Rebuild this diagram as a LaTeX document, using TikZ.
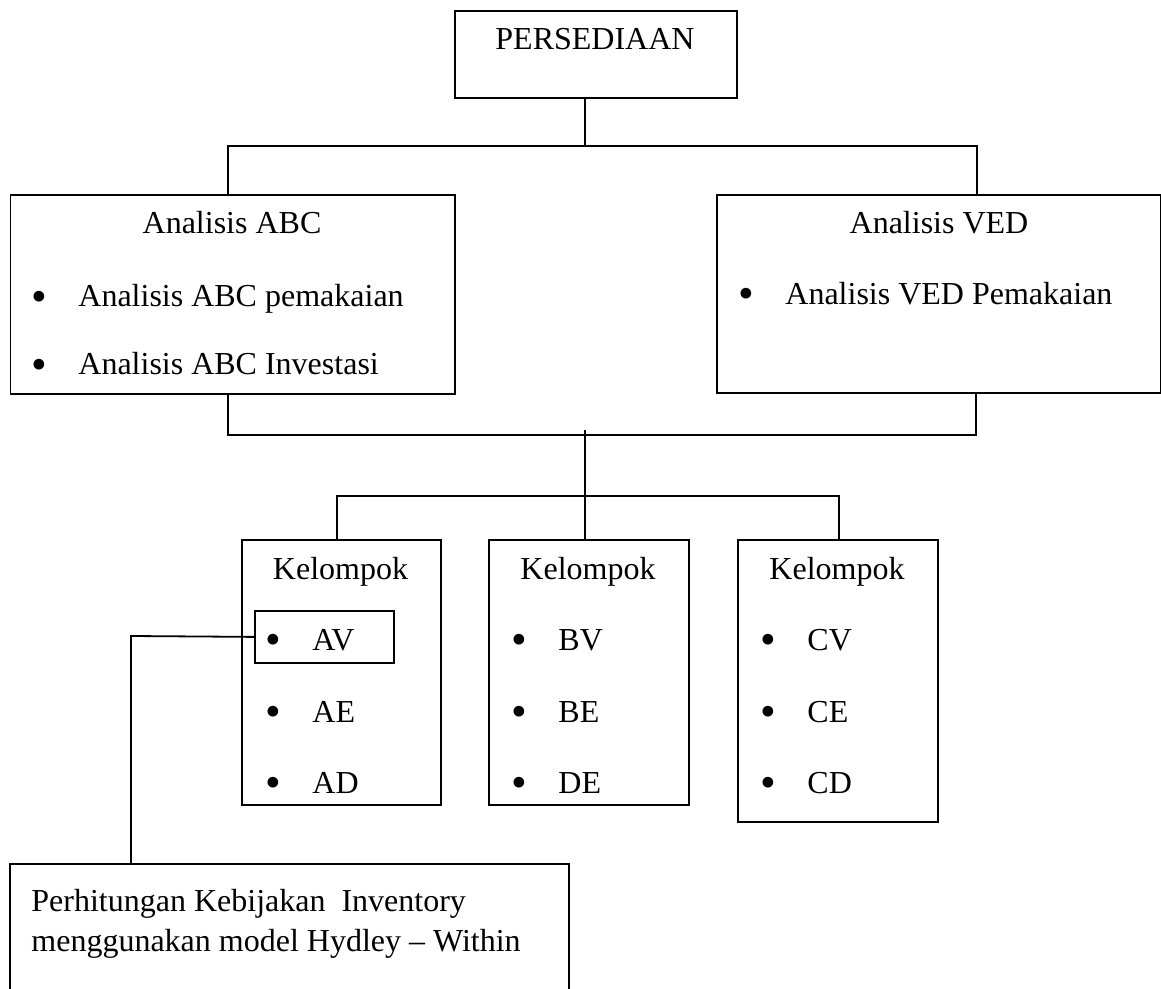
\documentclass[tikz,border=0pt]{standalone}
\usepackage{fontspec}
\setmainfont{Liberation Serif}
\usepackage{graphicx}
\usepackage{tikz}
\usetikzlibrary{positioning,calc}

\newcommand{\bul}{\makebox[23.5pt][l]{\raisebox{-2pt}{\scalebox{1.4}{\textbullet}}}}
\tikzset{
    box/.style={draw, line width=0.9pt, anchor=north west, inner sep=0pt},
    txt/.style={font=\fontsize{16}{20}\selectfont, inner sep=0pt, anchor=base},
    item/.style={txt, anchor=base west},
    link/.style={line width=0.9pt}
}

\begin{document}
\begin{tikzpicture}[x=0.5pt, y=-0.5pt]
    \useasboundingbox (0,0) rectangle (1161,989);

    % Persediaan
    \node[box, minimum width=141pt, minimum height=43.5pt] (persediaan) at (454,10) {};
    \node[txt] (tpers) at (595,50) {PERSEDIAAN};

    % Analisis ABC
    \node[box, minimum width=222.25pt, minimum height=99.5pt] (abc) at (9.5,194) {};
    \node[txt] (tabc) at (232,234) {Analisis ABC};
    \node[item] (abc1) at (31,307) {\bul Analisis ABC pemakaian};
    \node[item] (abc2) at (31,375) {\bul Analisis ABC Investasi};

    % Analisis VED
    \node[box, minimum width=222pt, minimum height=99pt] (ved) at (716,194) {};
    \node[txt] (tved) at (939,234) {Analisis VED};
    \node[item] (ved1) at (738,305) {\bul Analisis VED Pemakaian};

    % Kelompok
    \node[box, minimum width=99.5pt, minimum height=132.5pt] (kel1) at (241,539) {};
    \node[box, minimum width=100pt, minimum height=132.5pt] (kel2) at (488,539) {};
    \node[box, minimum width=100pt, minimum height=141pt] (kel3) at (737,539) {};
    \node[txt] (tkel1) at (340.5,579) {Kelompok};
    \node[txt] (tkel2) at (588,579) {Kelompok};
    \node[txt] (tkel3) at (837,579) {Kelompok};
    \node[item] (av) at (265,650) {\bul AV};
    \node[item] (ae) at (265,722) {\bul AE};
    \node[item] (ad) at (265,793) {\bul AD};
    \node[item] (bv) at (511,650) {\bul BV};
    \node[item] (be) at (511,722) {\bul BE};
    \node[item] (de) at (511,793) {\bul DE};
    \node[item] (cv) at (760,650) {\bul CV};
    \node[item] (ce) at (760,722) {\bul CE};
    \node[item] (cd) at (760,793) {\bul CD};
    \node[box, minimum width=69.5pt, minimum height=26pt] (avbox) at (254,610) {};

    % Perhitungan
    \node[anchor=north west, inner sep=0pt, minimum width=279pt, minimum height=62.5pt] (hitung) at (10,864) {};
    \draw[link] (hitung.south west) -- (hitung.north west) -- (hitung.north east) -- (hitung.south east);
    \node[item] (hit1) at (31,911) {Perhitungan Kebijakan \ Inventory};
    \node[item] (hit2) at (31,951) {menggunakan model Hydley -- Within};

    % Connections
    \coordinate (jc) at (585,146);
    \coordinate (jl) at (228,146);
    \coordinate (jr) at (977,146);
    \draw[link] (jc |- persediaan.south) -- (jc);
    \draw[link] (jl |- abc.north) -- (jl) -- (jr) -- (jr |- ved.north);

    \coordinate (ml) at (228,435);
    \coordinate (mr) at (976,435);
    \coordinate (mc) at (585,430);
    \draw[link] (ml |- abc.south) -- (ml) -- (mr) -- (mr |- ved.south);
    \draw[link] (mc) -- (mc |- kel2.north);

    \coordinate (kl) at (337,496);
    \coordinate (kr) at (839,496);
    \draw[link] (kl |- kel1.north) -- (kl) -- (kr) -- (kr |- kel3.north);

    \coordinate (hk) at (131,636);
    \draw[link] (avbox.west) -- (hk) -- (hk |- hitung.north);

\end{tikzpicture}
\end{document}
